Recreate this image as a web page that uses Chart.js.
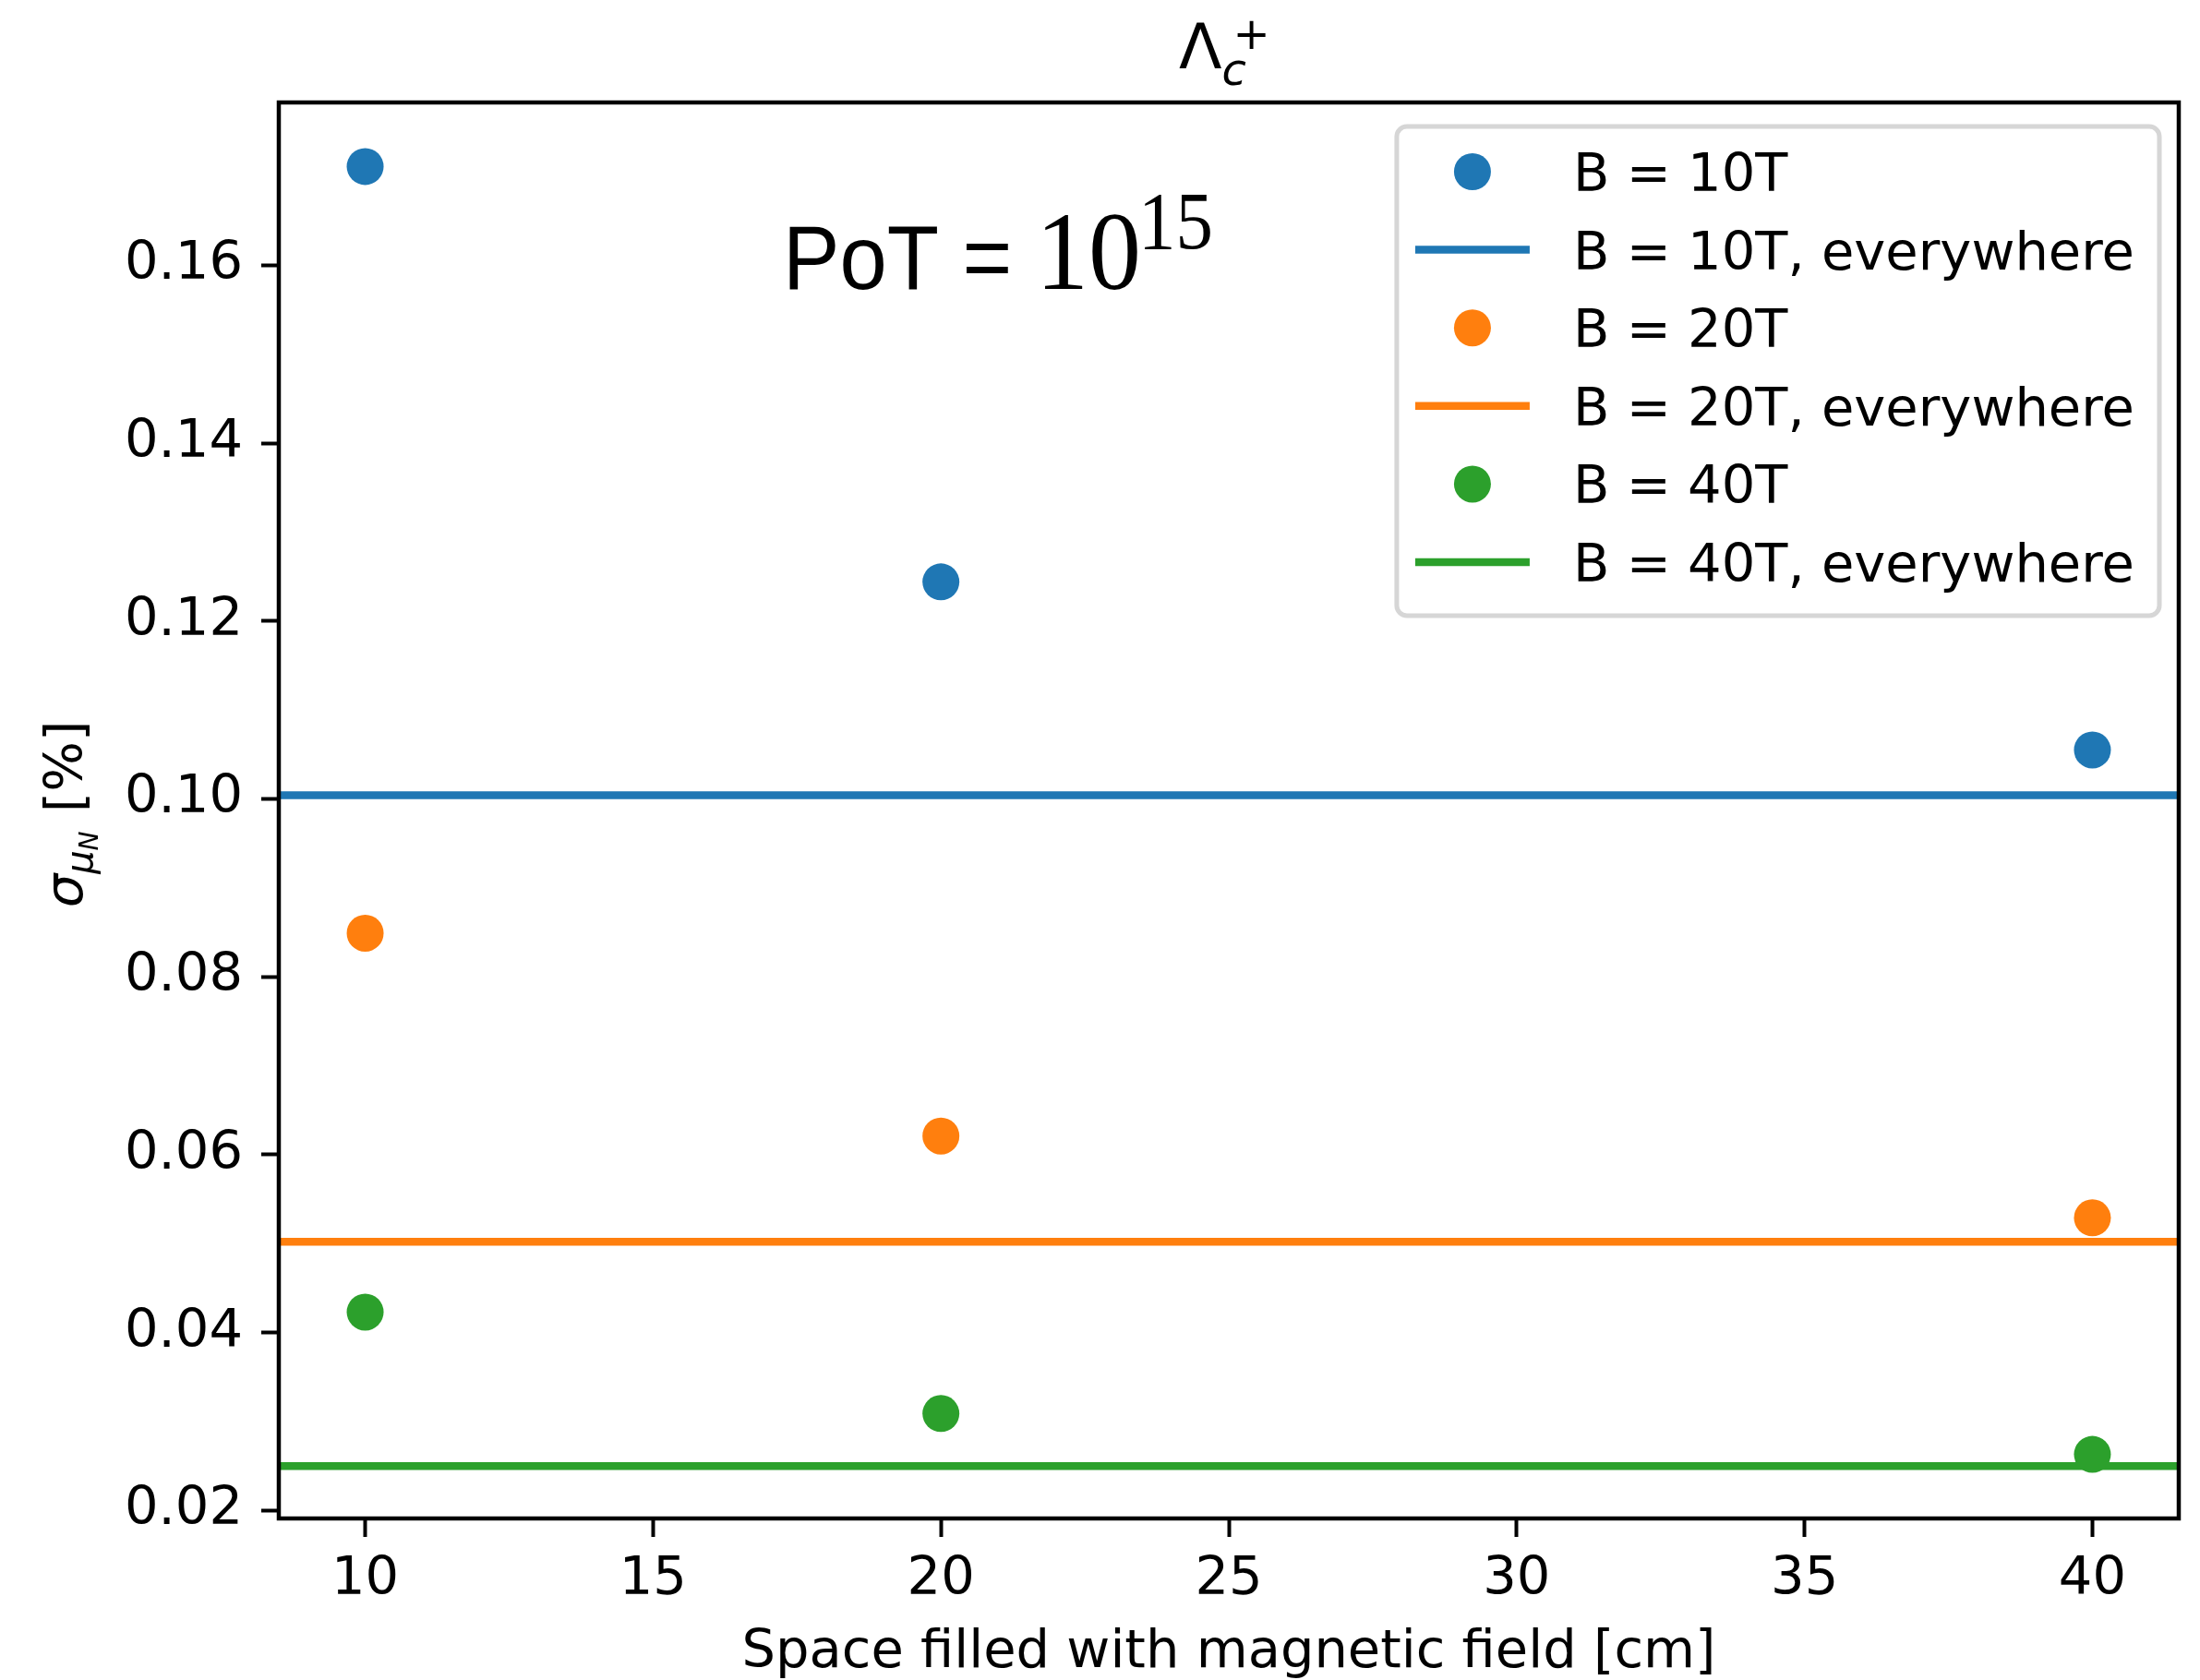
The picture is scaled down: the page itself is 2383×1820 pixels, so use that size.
<!DOCTYPE html>
<html><head><meta charset="utf-8">
<script src="https://cdn.jsdelivr.net/npm/chart.js@4.4.1/dist/chart.umd.min.js"></script>
<style>html,body{margin:0;padding:0;background:#fff;} canvas{display:block;}</style>
</head><body>
<div style="width:2383px;height:1820px"><canvas id="c" width="2383" height="1820"></canvas></div>
<script>
// ---- data ----
const POSITIONS_CM = [10, 20, 40];
const FIELD_LABELS = ['B = 10T', 'B = 20T', 'B = 40T'];
const SIGMA_B10 = [0.1711, 0.1244, 0.1055];
const SIGMA_B20 = [0.0849, 0.0621, 0.0529];
const SIGMA_B40 = [0.0423, 0.0309, 0.0263];
const SIGMA_EVERYWHERE = [0.1004, 0.0502, 0.0250];
const X_TICKS = [10, 15, 20, 25, 30, 35, 40];
const Y_TICKS = [0.02, 0.04, 0.06, 0.08, 0.10, 0.12, 0.14, 0.16];
const X_RANGE = [8.5, 41.5];
const Y_RANGE = [0.0191, 0.1783];
const COLORS = ['#1f77b4', '#ff7f0e', '#2ca02c'];
const TITLE_MAIN = '\u039B', TITLE_SUB = 'c', TITLE_SUP = '+';
const X_LABEL = 'Space filled with magnetic field [cm]';
const Y_LABEL_SYM = '\u03C3', Y_LABEL_SUB = '\u03BC', Y_LABEL_SUBSUB = 'N', Y_LABEL_UNIT = ' [%]';
const POT_TEXT = 'PoT = ', POT_BASE = '10', POT_EXP = '15';

const SERIES = [SIGMA_B10, SIGMA_B20, SIGMA_B40];
const datasets = [];
SERIES.forEach((vals, i) => {
  datasets.push({
    type: 'scatter', label: FIELD_LABELS[i],
    data: POSITIONS_CM.map((x, j) => ({x: x, y: vals[j]})),
    pointRadius: 20, pointHoverRadius: 20, backgroundColor: COLORS[i], borderWidth: 0, order: 1
  });
  datasets.push({
    type: 'line', label: FIELD_LABELS[i] + ', everywhere',
    data: X_RANGE.map(x => ({x: x, y: SIGMA_EVERYWHERE[i]})),
    borderColor: COLORS[i], borderWidth: 8.5, pointRadius: 0, fill: false, order: 0,
    borderCapStyle: 'butt'
  });
});

const FONT = '"DejaVu Sans"';
const FS = 57.5;
const tickFont = {family: 'DejaVu Sans', size: FS};

const decor = {
  id: 'decor',
  afterDraw(chart) {
    const ctx = chart.ctx, ca = chart.chartArea;
    const cx = (ca.left + ca.right) / 2, cy = (ca.top + ca.bottom) / 2;
    ctx.save();
    // frame
    ctx.strokeStyle = '#000'; ctx.lineWidth = 4.5;
    ctx.strokeRect(ca.left, ca.top, ca.right - ca.left, ca.bottom - ca.top);
    ctx.fillStyle = '#000';
    ctx.textAlign = 'left'; ctx.textBaseline = 'alphabetic';
    // title  Λ_c^+
    const tx = cx - 54, ty = ca.top - 37;
    ctx.font = '68px ' + FONT;
    const wL = ctx.measureText(TITLE_MAIN).width;
    ctx.fillText(TITLE_MAIN, tx, ty);
    ctx.font = 'italic 48px ' + FONT;
    ctx.fillText(TITLE_SUB, tx + wL, ty + 18);
    ctx.font = '48px ' + FONT;
    ctx.fillText(TITLE_SUP, tx + wL + 12, ty - 21);
    // x label
    ctx.font = FS + 'px ' + FONT; ctx.textAlign = 'center';
    ctx.fillText(X_LABEL, cx, 1806);
    ctx.textAlign = 'left';
    // y label
    ctx.save();
    ctx.translate(89, cy + 5); ctx.rotate(-Math.PI / 2);
    const f1 = 'italic ' + FS + 'px ' + FONT, f2 = 'italic 40px ' + FONT, f3 = 'italic 28px ' + FONT, f4 = FS + 'px ' + FONT;
    ctx.font = f1; const w1 = ctx.measureText(Y_LABEL_SYM).width;
    ctx.font = f2; const w2 = ctx.measureText(Y_LABEL_SUB).width;
    ctx.font = f3; const w3 = ctx.measureText(Y_LABEL_SUBSUB).width;
    ctx.font = f4; const w4 = ctx.measureText(Y_LABEL_UNIT).width;
    let x0 = -(w1 + w2 + w3 + w4) / 2;
    ctx.font = f1; ctx.fillText(Y_LABEL_SYM, x0, 0);
    ctx.font = f2; ctx.fillText(Y_LABEL_SUB, x0 + w1, 11);
    ctx.font = f3; ctx.fillText(Y_LABEL_SUBSUB, x0 + w1 + w2, 17);
    ctx.font = f4; ctx.fillText(Y_LABEL_UNIT, x0 + w1 + w2 + w3 + 2, 0);
    ctx.restore();
    // PoT annotation
    ctx.textAlign = 'left';
    const pby = ca.top + 202;
    ctx.save(); ctx.translate(ca.left + 546, pby); ctx.scale(0.94, 1);
    ctx.font = '98px "Liberation Sans"'; ctx.fillText(POT_TEXT, 0, 0);
    ctx.restore();
    ctx.save(); ctx.translate(ca.left + 820, pby); ctx.scale(0.95, 1);
    ctx.font = '120px "Liberation Serif"'; ctx.fillText(POT_BASE, 0, 0);
    ctx.restore();
    ctx.save(); ctx.translate(ca.left + 931, pby - 44); ctx.scale(0.92, 1);
    ctx.font = '88px "Liberation Serif"'; ctx.fillText(POT_EXP, 0, 0);
    ctx.restore();
    // legend
    ctx.font = FS + 'px ' + FONT;
    const ds = chart.data.datasets;
    let maxW = 0;
    ds.forEach(d => { maxW = Math.max(maxW, ctx.measureText(d.label).width); });
    const bw = 191 + maxW + 27, bh = 530;
    const bx = ca.right - 21 - bw, by = ca.top + 26;
    ctx.beginPath();
    ctx.roundRect(bx, by, bw, bh, 11);
    ctx.fillStyle = 'rgba(255,255,255,0.8)'; ctx.fill();
    ctx.strokeStyle = '#d6d6d6'; ctx.lineWidth = 5; ctx.stroke();
    ds.forEach((d, k) => {
      const ry = by + 49 + k * 84.6;
      if (d.type === 'scatter') {
        ctx.beginPath(); ctx.arc(bx + 82, ry, 20, 0, Math.PI * 2);
        ctx.fillStyle = d.backgroundColor; ctx.fill();
      } else {
        ctx.beginPath(); ctx.moveTo(bx + 20, ry); ctx.lineTo(bx + 144, ry);
        ctx.strokeStyle = d.borderColor; ctx.lineWidth = 8.5; ctx.lineCap = 'butt'; ctx.stroke();
      }
      ctx.fillStyle = '#000'; ctx.textAlign = 'left'; ctx.textBaseline = 'alphabetic';
      ctx.fillText(d.label, bx + 191, ry + 21);
    });
    ctx.restore();
  }
};

new Chart(document.getElementById('c'), {
  type: 'scatter',
  data: {datasets: datasets},
  options: {
    responsive: false, animation: false, devicePixelRatio: 1,
    layout: {padding: {top: 111, right: 23, left: 0, bottom: 0}},
    plugins: {legend: {display: false}, tooltip: {enabled: false}, title: {display: false}},
    scales: {
      x: {
        type: 'linear', min: X_RANGE[0], max: X_RANGE[1],
        afterBuildTicks: s => { s.ticks = X_TICKS.map(v => ({value: v})); },
        afterFit: s => { s.height = 175; },
        grid: {display: true, drawOnChartArea: false, drawTicks: true, tickLength: 20, tickWidth: 4, tickColor: '#000'},
        border: {display: false},
        ticks: {font: tickFont, color: '#000', padding: 13, maxRotation: 0, autoSkip: false,
                callback: v => String(v)}
      },
      y: {
        type: 'linear', min: Y_RANGE[0], max: Y_RANGE[1],
        afterBuildTicks: s => { s.ticks = Y_TICKS.map(v => ({value: v})); },
        afterFit: s => { s.width = 302; },
        grid: {display: true, drawOnChartArea: false, drawTicks: true, tickLength: 19, tickWidth: 4, tickColor: '#000'},
        border: {display: false},
        ticks: {font: tickFont, color: '#000', padding: 20, autoSkip: false,
                callback: v => Number(v).toFixed(2)}
      }
    }
  },
  plugins: [decor]
});
</script>
</body></html>
